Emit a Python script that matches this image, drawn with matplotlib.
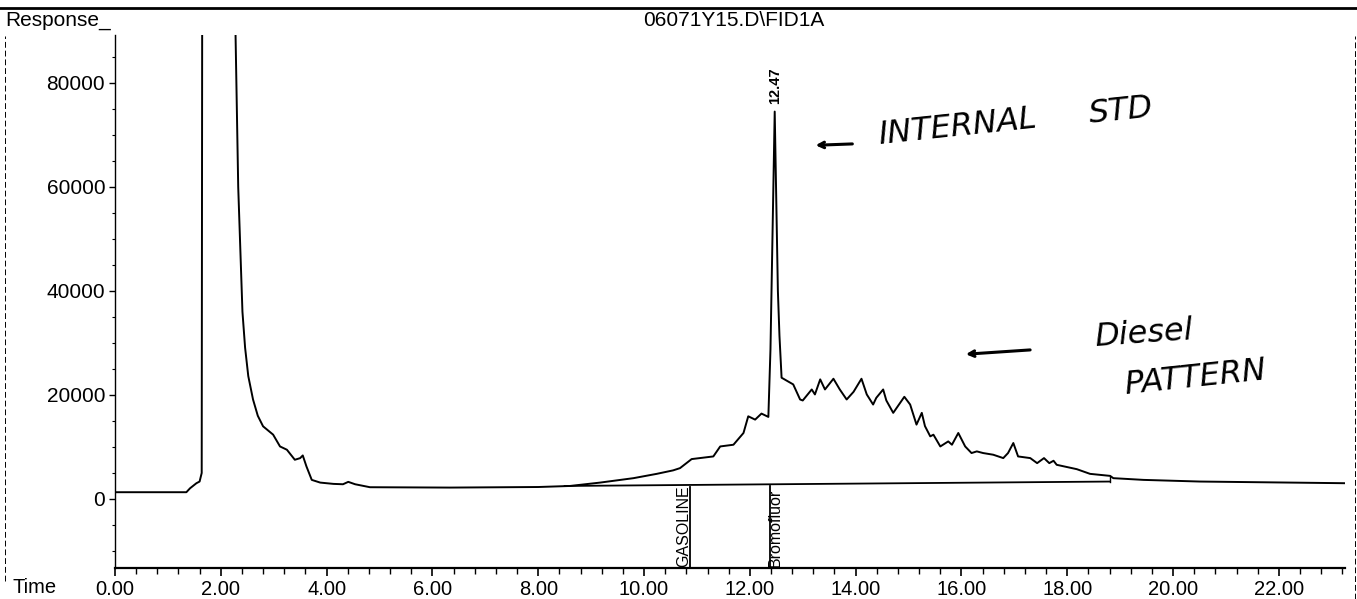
import numpy as np
import matplotlib.pyplot as plt
from matplotlib.lines import Line2D

plt.rcParams['font.family'] = ['Liberation Sans', 'DejaVu Sans']

# retention time (min) and detector response
time = [0.00, 1.35, 1.42, 1.54, 1.60, 1.64, 1.66, 2.27, 2.28, 2.33, 2.41, 2.46,
        2.52, 2.61, 2.70, 2.80, 2.99, 3.12, 3.25, 3.40, 3.50, 3.55, 3.62, 3.72,
        3.88, 4.13, 4.31, 4.41, 4.54, 4.82, 6.33, 8.00, 8.60, 9.17, 9.80, 10.24,
        10.55, 10.68, 10.90, 11.31, 11.44, 11.69, 11.88, 11.97, 12.10, 12.22,
        12.35, 12.39, 12.47, 12.53, 12.56, 12.60, 12.82, 12.95, 13.00, 13.17,
        13.23, 13.33, 13.42, 13.58, 13.70, 13.83, 13.96, 14.11, 14.21, 14.33,
        14.39, 14.52, 14.58, 14.71, 14.92, 15.03, 15.15, 15.25, 15.31, 15.41,
        15.47, 15.60, 15.75, 15.82, 15.94, 16.07, 16.19, 16.29, 16.41, 16.60,
        16.79, 16.88, 16.98, 17.07, 17.30, 17.43, 17.56, 17.66, 17.74, 17.80,
        18.18, 18.43, 18.81, 18.87, 19.44, 20.51, 23.25]
response = [1300, 1300, 2060, 3030, 3350, 5000, 200000, 200000, 89000, 60000, 36000, 29100,
            23640, 19130, 16000, 13970, 12370, 10100, 9470, 7540, 7850, 8370, 6250, 3670,
            3150, 2900, 2830, 3290, 2830, 2260, 2190, 2300, 2500, 3150, 4000, 4830,
            5500, 5930, 7670, 8180, 10100, 10430, 12690, 15900, 15260, 16420,
            15780, 28800, 74500, 40000, 31370, 23320, 22030, 19130, 18940, 21060,
            20100, 23000, 21060, 23120, 21060, 19130, 20600, 23120, 20100, 18160,
            19450, 21060, 18940, 16560, 19650, 18160, 14300, 16560, 14010, 12040,
            12360, 10100, 11070, 10430, 12690, 10100, 8830, 9150, 8830, 8510,
            7860, 8830, 10760, 8180, 7860, 6890, 7860, 6890, 7350, 6570,
            5730, 4830, 4440, 4000, 3670, 3350, 3030]

# integration baseline under the hump
base_time = [8.5, 18.8]
base_resp = [2500, 3350]

# compound markers
marker_names = ['GASOLINE', 'Bromofluor']
marker_times = [10.87, 12.38]
marker_top = [2300, 2400]

peak_rt = 12.47
peak_label = '12.47'

xticks = np.arange(0, 23, 2)
yticks = [0, 20000, 40000, 60000, 80000]

fig = plt.figure(figsize=(13.57, 5.99), dpi=100)
ax = fig.add_axes([0.0847, 0.0518, 0.9065, 0.8898])

ax.plot(time, response, color='black', lw=1.4)
ax.plot(base_time, base_resp, color='black', lw=1.3)
ax.plot([18.8, 18.8], [3350, 4300], color='black', lw=1.0)

ax.set_xlim(0, 23.25)
ax.set_ylim(-13270, 89230)

for name, t, top in zip(marker_names, marker_times, marker_top):
    ax.plot([t, t], [-13270, top], color='black', lw=1.3)
ax.text(marker_times[0] + 0.03, -13100, marker_names[0], rotation=90,
        ha='right', va='bottom', fontsize=11.5)
ax.text(marker_times[1] - 0.05, -13100, marker_names[1], rotation=90,
        ha='left', va='bottom', fontsize=11.5)

ax.text(peak_rt + 0.01, 76000, peak_label, rotation=90, ha='center', va='bottom',
        fontsize=10.5, fontweight='bold')

ax.spines['top'].set_visible(False)
ax.spines['right'].set_visible(False)
ax.spines['left'].set_linewidth(1.0)
ax.spines['bottom'].set_linewidth(1.6)

ax.set_xticks(xticks)
ax.set_xticklabels(['%.2f' % v for v in xticks])
ax.set_xticks(np.arange(0, 23.25, 0.4), minor=True)
ax.set_yticks(yticks)
ax.set_yticklabels([str(v) for v in yticks])
ax.set_yticks(np.arange(-10000, 89000, 5000), minor=True)
ax.tick_params(axis='x', which='major', length=6, width=1.2, pad=3, labelsize=14.5)
ax.tick_params(axis='x', which='minor', length=4, width=1.0)
ax.tick_params(axis='y', which='major', length=4, width=1.0, pad=3, labelsize=15)
ax.tick_params(axis='y', which='minor', length=2, width=0.8)

# handwritten notes
hand = dict(fontstyle='italic', fontsize=23, color='black', family='DejaVu Sans')
ax.annotate('', xy=(13.19, 68000), xytext=(13.99, 68300),
            arrowprops=dict(arrowstyle='->', lw=2.2, color='black'))
ax.text(14.40, 71500, 'INTERNAL', rotation=6, ha='left', va='center', **hand)
ax.text(18.37, 74500, 'STD', rotation=6, ha='left', va='center', **hand)
ax.annotate('', xy=(16.03, 27800), xytext=(17.35, 28700),
            arrowprops=dict(arrowstyle='->', lw=2.2, color='black'))
ax.text(18.50, 31700, 'Diesel', rotation=4, ha='left', va='center', **hand)
ax.text(19.05, 23300, 'PATTERN', rotation=6, ha='left', va='center', **hand)

# page furniture
fig.text(0.004, 0.966, 'Response_', fontsize=15, ha='left', va='center')
fig.text(0.541, 0.966, '06071Y15.D\\FID1A', fontsize=15, ha='center', va='center')
fig.text(0.009, 0.004, 'Time', fontsize=14.5, ha='left', va='bottom')
fig.add_artist(Line2D([0, 1], [0.9866, 0.9866], color='black', lw=2))
fig.add_artist(Line2D([0.0037, 0.0037], [0.03, 0.94], color='black', lw=0.7,
                      linestyle=(0, (6, 3))))
fig.add_artist(Line2D([0.9985, 0.9985], [0.0, 0.94], color='black', lw=0.7,
                      linestyle=(0, (6, 3))))

fig.savefig('out.png', dpi=100)
